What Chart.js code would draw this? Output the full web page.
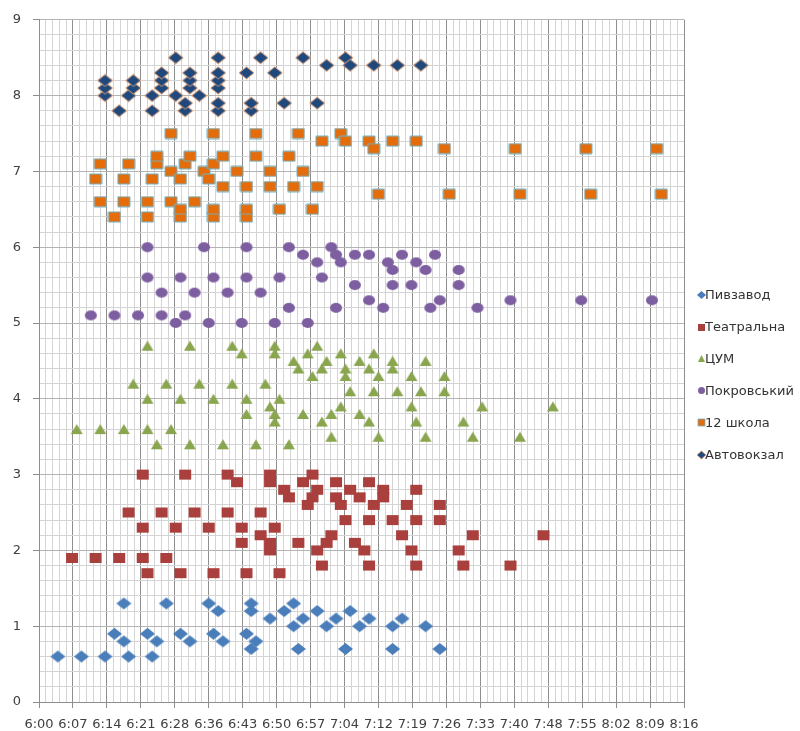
<!DOCTYPE html>
<html>
<head>
<meta charset="utf-8">
<script src="https://cdn.jsdelivr.net/npm/chart.js@4.4.1/dist/chart.umd.min.js"></script>
<style>
  html, body { margin: 0; padding: 0; background: #ffffff; }
  #wrap { width: 800px; height: 731px; }
</style>
</head>
<body>
<div id="wrap"><canvas id="chart" width="800" height="731"></canvas></div>
<script>
// Departure times (H:MM) and stop positions for each stop
const seriesNames = ['Пивзавод', 'Театральна', 'ЦУМ', 'Покровський', '12 школа', 'Автовокзал'];

const pyvzavodTimes = ['6:04','6:09','6:14','6:19','6:24','6:18','6:16','6:18','6:27','6:23','6:25','6:30','6:32','6:36','6:38','6:37','6:39','6:45','6:45','6:44','6:46','6:45','6:49','6:52','6:54','6:56','6:54','6:55','6:59','7:03','7:01','7:05','7:06','7:08','7:10','7:15','7:17','7:22','7:15','7:25'];
const pyvzavodValues = [0.6,0.6,0.6,0.6,0.6,1.3,0.9,0.8,1.3,0.9,0.8,0.9,0.8,1.3,1.2,0.9,0.8,1.3,1.2,0.9,0.8,0.7,1.1,1.2,1.3,1.1,1.0,0.7,1.2,1.1,1.0,0.7,1.2,1.0,1.1,1.0,1.1,1.0,0.7,0.7];

const teatralnaTimes = ['6:07','6:12','6:17','6:22','6:27','6:23','6:30','6:37','6:44','6:51','6:22','6:31','6:40','6:42','6:49','6:49','6:19','6:26','6:33','6:40','6:47','6:22','6:29','6:36','6:43','6:50','6:43','6:47','6:49','6:49','6:55','6:52','6:53','6:56','6:58','6:59','6:58','6:57','7:03','7:03','7:04','7:05','7:06','7:08','7:02','7:01','6:59','7:00','7:10','7:13','7:13','7:20','7:11','7:18','7:25','7:10','7:15','7:20','7:25','7:17','7:32','7:47','7:07','7:09','7:19','7:29','7:10','7:20','7:30','7:40'];
const teatralnaValues = [1.9,1.9,1.9,1.9,1.9,1.7,1.7,1.7,1.7,1.7,3.0,3.0,3.0,2.9,3.0,2.9,2.5,2.5,2.5,2.5,2.5,2.3,2.3,2.3,2.3,2.3,2.1,2.2,2.1,2.0,2.1,2.8,2.7,2.9,3.0,2.8,2.7,2.6,2.9,2.7,2.6,2.4,2.8,2.7,2.2,2.1,2.0,1.8,2.9,2.8,2.7,2.8,2.6,2.6,2.6,2.4,2.4,2.4,2.4,2.2,2.2,2.2,2.1,2.0,2.0,2.0,1.8,1.8,1.8,1.8];

const tsumTimes = ['6:08','6:13','6:18','6:23','6:28','6:25','6:32','6:39','6:46','6:53','6:23','6:32','6:41','6:43','6:50','6:50','6:59','6:57','7:04','6:54','6:55','7:01','7:00','6:58','7:05','7:05','7:08','6:20','6:27','6:34','6:41','6:48','7:06','6:23','6:30','6:37','6:44','6:51','6:49','7:04','6:44','6:50','6:56','7:02','7:08','6:50','7:00','7:02','7:11','7:15','7:15','7:22','7:10','7:12','7:19','7:26','7:11','7:16','7:21','7:26','7:19','7:34','7:49','7:10','7:20','7:30','7:12','7:22','7:32','7:42'];
const tsumValues = [3.6,3.6,3.6,3.6,3.6,3.4,3.4,3.4,3.4,3.4,4.7,4.7,4.7,4.6,4.6,4.7,4.7,4.6,4.6,4.5,4.4,4.5,4.4,4.3,4.3,4.4,4.5,4.2,4.2,4.2,4.2,4.2,4.1,4.0,4.0,4.0,4.0,4.0,3.9,3.9,3.8,3.8,3.8,3.8,3.8,3.7,3.7,3.5,4.6,4.4,4.5,4.5,4.4,4.3,4.3,4.3,4.1,4.1,4.1,4.1,3.9,3.9,3.9,3.7,3.7,3.7,3.5,3.5,3.5,3.5];

const pokrovskyiTimes = ['6:11','6:16','6:21','6:26','6:23','6:23','6:26','6:29','6:31','6:30','6:33','6:35','6:36','6:37','6:40','6:43','6:44','6:44','6:47','6:50','6:51','6:53','6:53','6:56','6:57','6:59','7:00','7:02','7:03','7:04','7:03','7:07','7:07','7:10','7:10','7:13','7:14','7:15','7:15','7:17','7:19','7:20','7:22','7:24','7:23','7:25','7:29','7:29','7:33','7:40','7:55','8:10'];
const pokrovskyiValues = [5.1,5.1,5.1,5.1,6.0,5.6,5.4,5.0,5.1,5.6,5.4,6.0,5.0,5.6,5.4,5.0,6.0,5.6,5.4,5.0,5.6,6.0,5.2,5.9,5.0,5.8,5.6,6.0,5.9,5.8,5.2,5.9,5.5,5.9,5.3,5.2,5.8,5.7,5.5,5.9,5.5,5.8,5.7,5.9,5.2,5.3,5.7,5.5,5.2,5.3,5.3,5.3];

const shkolaTimes = ['6:12','6:13','6:18','6:19','6:24','6:25','6:25','6:28','6:28','6:30','6:31','6:32','6:35','6:36','6:37','6:37','6:39','6:39','6:42','6:44','6:46','6:55','7:04','7:00','7:05','7:10','7:15','7:20','7:11','7:26','6:46','6:53','6:49','6:56','6:49','6:54','6:59','7:12','7:27','7:41','7:42','7:56','7:57','8:11','8:12','6:13','6:18','6:23','6:28','6:33','6:16','6:23','6:30','6:30','6:37','6:37','6:44','6:44','6:51','6:58'];
const shkolaValues = [6.9,7.1,6.9,7.1,6.9,7.1,7.2,7.0,7.5,6.9,7.1,7.2,7.0,6.9,7.1,7.5,6.8,7.2,7.0,6.8,7.5,7.5,7.5,7.4,7.4,7.4,7.4,7.4,7.3,7.3,7.2,7.2,7.0,7.0,6.8,6.8,6.8,6.7,6.7,7.3,6.7,7.3,6.7,7.3,6.7,6.6,6.6,6.6,6.6,6.6,6.4,6.4,6.4,6.5,6.4,6.5,6.4,6.5,6.5,6.5];

const avtovokzalTimes = ['6:14','6:14','6:14','6:19','6:20','6:20','6:17','6:24','6:24','6:26','6:26','6:26','6:29','6:29','6:31','6:31','6:32','6:32','6:32','6:34','6:38','6:38','6:38','6:38','6:38','6:38','6:44','6:45','6:45','6:47','6:50','6:52','6:56','6:59','7:01','7:05','7:06','7:11','7:16','7:21'];
const avtovokzalValues = [8.0,8.1,8.2,8.0,8.1,8.2,7.8,7.8,8.0,8.1,8.2,8.3,8.0,8.5,7.8,7.9,8.1,8.2,8.3,8.0,7.8,7.9,8.1,8.2,8.3,8.5,8.3,7.8,7.9,8.5,8.3,7.9,8.5,7.9,8.4,8.5,8.4,8.4,8.4,8.4];

const xTickLabels = ['6:00','6:07','6:14','6:21','6:28','6:36','6:43','6:50','6:57','7:04','7:12','7:19','7:26','7:33','7:40','7:48','7:55','8:02','8:09','8:16'];
const yTickLabels = ['0','1','2','3','4','5','6','7','8','9'];

// Axis runs in minutes after 6:00; a minor step is 1/1000 of a day (1.44 min)
const X_STEP = 1.44, X_MINOR_COUNT = 95, Y_STEP = 0.2, Y_MINOR_COUNT = 45;

function toMinutes(t) {
  const [h, m] = t.split(':').map(Number);
  return (h - 6) * 60 + m;
}
function toPoints(times, values) {
  return times.map((t, i) => ({ x: toMinutes(t), y: values[i] }));
}

// Small bitmap markers (slightly wider than tall)
function marker(shape, w, h, fill, stroke, lw) {
  const c = document.createElement('canvas');
  c.width = w + 2; c.height = h + 2;
  const g = c.getContext('2d');
  const cx = c.width / 2, cy = c.height / 2, rx = w / 2, ry = h / 2;
  g.beginPath();
  if (shape === 'diamond') {
    g.moveTo(cx, cy - ry); g.lineTo(cx + rx, cy); g.lineTo(cx, cy + ry); g.lineTo(cx - rx, cy); g.closePath();
  } else if (shape === 'rect') {
    g.rect(cx - rx, cy - ry, w, h);
  } else if (shape === 'triangle') {
    g.moveTo(cx, cy - ry); g.lineTo(cx + rx, cy + ry); g.lineTo(cx - rx, cy + ry); g.closePath();
  } else {
    g.ellipse(cx, cy, rx, ry, 0, 0, Math.PI * 2);
  }
  g.fillStyle = fill; g.fill();
  if (stroke) { g.strokeStyle = stroke; g.lineWidth = lw || 1; g.stroke(); }
  return c;
}

const styles = [
  { shape: 'diamond',  w: 15, h: 12, fill: '#4a7ebb', stroke: null },
  { shape: 'rect',     w: 12, h: 10, fill: '#a9403d', stroke: null },
  { shape: 'triangle', w: 12, h: 10, fill: '#89a54e', stroke: null },
  { shape: 'ellipse',  w: 12, h: 10, fill: '#7d5ea0', stroke: null },
  { shape: 'rect',     w: 12, h: 10, fill: '#e46c0a', stroke: '#6fb3c8' },
  { shape: 'diamond',  w: 15, h: 12, fill: '#1f497d', stroke: '#e8a070' }
];
const pointImages = styles.map(s => marker(s.shape, s.w, s.h, s.fill, s.stroke, 1));
const legendImages = styles.map(s => marker(s.shape, Math.round(s.w * 0.6), Math.round(s.h * 0.65), s.fill, s.stroke, 0.8));

const seriesData = [
  toPoints(pyvzavodTimes, pyvzavodValues),
  toPoints(teatralnaTimes, teatralnaValues),
  toPoints(tsumTimes, tsumValues),
  toPoints(pokrovskyiTimes, pokrovskyiValues),
  toPoints(shkolaTimes, shkolaValues),
  toPoints(avtovokzalTimes, avtovokzalValues)
];

const datasets = seriesNames.map((name, i) => ({
  label: name,
  data: seriesData[i],
  pointStyle: pointImages[i],
  pointRadius: 6,
  pointHoverRadius: 6,
  backgroundColor: styles[i].fill,
  borderColor: styles[i].fill,
  showLine: false
}));

// Legend on the right, one entry per stop
const sideLegend = {
  id: 'sideLegend',
  afterDraw(chart) {
    const ctx = chart.ctx;
    const area = chart.chartArea;
    const gap = 31.9;
    const firstY = (area.top + area.bottom) / 2 + 14 - 2.5 * gap;
    const markX = area.right + 17;
    ctx.save();
    ctx.font = '13px "DejaVu Sans"';
    ctx.fillStyle = '#333333';
    ctx.textBaseline = 'middle';
    ctx.textAlign = 'left';
    chart.data.datasets.forEach((ds, i) => {
      const y = firstY + i * gap;
      const img = legendImages[i];
      ctx.drawImage(img, Math.round(markX - img.width / 2), Math.round(y - img.height / 2));
      ctx.fillText(ds.label, markX + 4, y + 0.5);
    });
    ctx.restore();
  }
};

const majorGrid = '#8e8e8e';
const minorGrid = '#d4d4d4';

new Chart(document.getElementById('chart'), {
  type: 'scatter',
  data: { datasets },
  options: {
    responsive: false,
    animation: false,
    devicePixelRatio: 1,
    layout: { padding: { top: 17, right: 116, bottom: 0, left: 0 } },
    plugins: {
      legend: { display: false },
      tooltip: { enabled: false }
    },
    scales: {
      x: {
        type: 'linear',
        min: 0,
        max: X_STEP * X_MINOR_COUNT,
        afterBuildTicks: s => {
          s.ticks = Array.from({ length: X_MINOR_COUNT + 1 }, (_, i) => ({ value: i * X_STEP }));
        },
        afterFit: s => { s.height = 29; },
        ticks: {
          autoSkip: false,
          maxRotation: 0,
          minRotation: 0,
          padding: 9,
          color: '#404040',
          font: { family: 'DejaVu Sans', size: 13 },
          callback: (v, i) => (i % 5 === 0 ? xTickLabels[i / 5] : '')
        },
        grid: {
          color: c => (c.index % 5 === 0 ? majorGrid : minorGrid),
          tickColor: c => (c.index % 5 === 0 ? majorGrid : 'rgba(0,0,0,0)'),
          tickLength: 6,
          lineWidth: 1
        },
        border: { color: majorGrid, width: 1 }
      },
      y: {
        type: 'linear',
        min: 0,
        max: Y_STEP * Y_MINOR_COUNT,
        afterBuildTicks: s => {
          s.ticks = Array.from({ length: Y_MINOR_COUNT + 1 }, (_, i) => ({ value: Math.round(i * Y_STEP * 10) / 10 }));
        },
        afterFit: s => { s.width = 39; },
        ticks: {
          autoSkip: false,
          padding: 12,
          color: '#404040',
          font: { family: 'DejaVu Sans', size: 13 },
          callback: (v, i) => (i % 5 === 0 ? yTickLabels[i / 5] : '')
        },
        grid: {
          color: c => (c.index % 5 === 0 ? '#b4b4b4' : minorGrid),
          tickColor: c => (c.index % 5 === 0 ? majorGrid : 'rgba(0,0,0,0)'),
          tickLength: 6,
          lineWidth: 1
        },
        border: { color: majorGrid, width: 1 }
      }
    }
  },
  plugins: [sideLegend]
});
</script>
</body>
</html>
